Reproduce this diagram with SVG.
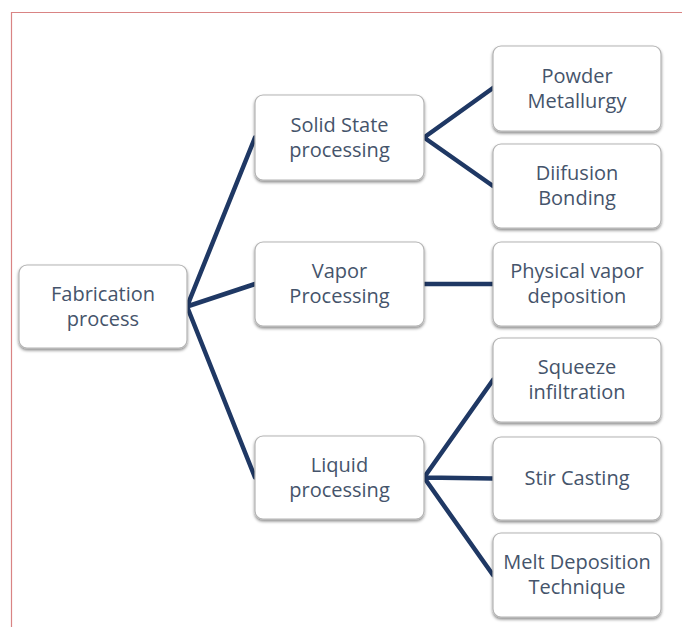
<svg xmlns="http://www.w3.org/2000/svg" width="682" height="627" viewBox="0 0 682 627">
<defs>
<filter id="sh" x="-10%" y="-10%" width="120%" height="130%">
<feDropShadow dx="0" dy="2" stdDeviation="1.5" flood-color="#000" flood-opacity="0.45"/>
</filter>
<style>
.box{fill:#fff;stroke:#b4b4b4;stroke-width:1.2;filter:url(#sh)}
.t{font-family:"Open Sans","Liberation Sans",sans-serif;font-size:20px;fill:#45546b;text-anchor:middle}
.c{stroke:#1f3864;stroke-width:4.5;fill:none;stroke-linecap:round}
</style>
</defs>
<rect width="682" height="627" fill="#fff"/>
<path d="M11.5 627 V12.5 H682" fill="none" stroke="#d98484" stroke-width="1.2"/>
<g id="connectors">
<path class="c" d="M187 306.5 L255 137.5 M187 306.5 L255 284 M187 306.5 L255 477.5"/>
<path class="c" d="M424 137.5 L493 88 M424 137.5 L493 186"/>
<path class="c" d="M424 284 L493 284"/>
<path class="c" d="M424 477.5 L493 380 M424 477.5 L493 478.5 M424 477.5 L493 575"/>
</g>
<g id="fabrication">
<rect class="box" x="19" y="265" width="168" height="83" rx="8"/>
<text class="t" x="103" y="300.5">Fabrication</text>
<text class="t" x="103" y="325.5">process</text>
</g>
<g id="solid">
<rect class="box" x="255" y="95" width="169" height="85" rx="8"/>
<text class="t" x="339.5" y="131.5">Solid State</text>
<text class="t" x="339.5" y="156.5">processing</text>
</g>
<g id="vapor">
<rect class="box" x="255" y="242" width="169" height="84" rx="8"/>
<text class="t" x="339.5" y="277.5">Vapor</text>
<text class="t" x="339.5" y="302.5">Processing</text>
</g>
<g id="liquid">
<rect class="box" x="255" y="436" width="169" height="83" rx="8"/>
<text class="t" x="339.5" y="471.5">Liquid</text>
<text class="t" x="339.5" y="496.5">processing</text>
</g>
<g id="powder">
<rect class="box" x="493" y="46" width="168" height="85" rx="8"/>
<text class="t" x="577" y="82.5">Powder</text>
<text class="t" x="577" y="107.5">Metallurgy</text>
</g>
<g id="diffusion">
<rect class="box" x="493" y="144" width="168" height="84" rx="8"/>
<text class="t" x="577" y="180">Diifusion</text>
<text class="t" x="577" y="205">Bonding</text>
</g>
<g id="physical">
<rect class="box" x="493" y="242" width="168" height="84" rx="8"/>
<text class="t" x="577" y="277.5">Physical vapor</text>
<text class="t" x="577" y="302.5">deposition</text>
</g>
<g id="squeeze">
<rect class="box" x="493" y="338" width="168" height="84" rx="8"/>
<text class="t" x="577" y="374">Squeeze</text>
<text class="t" x="577" y="399">infiltration</text>
</g>
<g id="stir">
<rect class="box" x="493" y="437" width="168" height="83" rx="8"/>
<text class="t" x="577" y="484.5">Stir Casting</text>
</g>
<g id="melt">
<rect class="box" x="493" y="533" width="168" height="84" rx="8"/>
<text class="t" x="577" y="569">Melt Deposition</text>
<text class="t" x="577" y="594">Technique</text>
</g>
</svg>
